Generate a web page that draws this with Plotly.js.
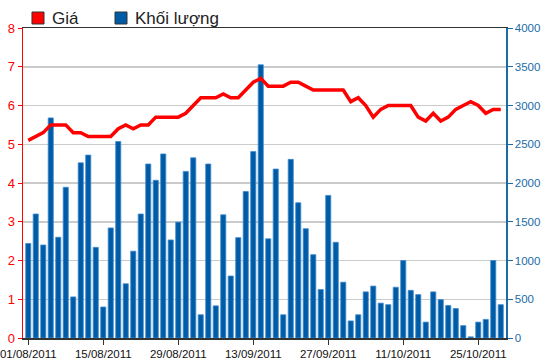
<!DOCTYPE html>
<html>
<head>
<meta charset="utf-8">
<script src="https://cdn.plot.ly/plotly-3.0.1.min.js"></script>
<style>html,body{margin:0;padding:0;background:#fff;}#chart{width:550px;height:364px;}</style>
</head>
<body>
<div id="chart"></div>
<script>
const dates = [
 "01/08/2011","02/08/2011","03/08/2011","04/08/2011","05/08/2011","08/08/2011","09/08/2011","10/08/2011","11/08/2011","12/08/2011",
 "15/08/2011","16/08/2011","17/08/2011","18/08/2011","19/08/2011","22/08/2011","23/08/2011","24/08/2011","25/08/2011","26/08/2011",
 "29/08/2011","30/08/2011","31/08/2011","01/09/2011","05/09/2011","06/09/2011","07/09/2011","08/09/2011","09/09/2011","12/09/2011",
 "13/09/2011","14/09/2011","15/09/2011","16/09/2011","19/09/2011","20/09/2011","21/09/2011","22/09/2011","23/09/2011","26/09/2011",
 "27/09/2011","28/09/2011","29/09/2011","30/09/2011","03/10/2011","04/10/2011","05/10/2011","06/10/2011","07/10/2011","10/10/2011",
 "11/10/2011","12/10/2011","13/10/2011","14/10/2011","17/10/2011","18/10/2011","19/10/2011","20/10/2011","21/10/2011","24/10/2011",
 "25/10/2011","26/10/2011","27/10/2011","28/10/2011"
];
const volume = [
 1220,1600,1200,2840,1300,1945,530,2260,2360,1170,
 400,1420,2535,700,1120,1600,2245,2035,2375,1265,
 1495,2150,2325,300,2245,415,1590,800,1295,1890,
 2405,3525,1280,2180,300,2305,1745,1410,1075,625,
 1840,1235,720,220,300,595,670,450,430,655,
 1000,615,560,205,595,495,420,380,160,15,
 205,240,1000,430
];
const price = [
 5.1,5.2,5.3,5.5,5.5,5.5,5.3,5.3,5.2,5.2,
 5.2,5.2,5.4,5.5,5.4,5.5,5.5,5.7,5.7,5.7,
 5.7,5.8,6.0,6.2,6.2,6.2,6.3,6.2,6.2,6.4,
 6.6,6.7,6.5,6.5,6.5,6.6,6.6,6.5,6.4,6.4,
 6.4,6.4,6.4,6.1,6.2,6.0,5.7,5.9,6.0,6.0,
 6.0,6.0,5.7,5.6,5.8,5.6,5.7,5.9,6.0,6.1,
 6.0,5.8,5.9,5.9
];
const tickDates = ["01/08/2011","15/08/2011","29/08/2011","13/09/2011","27/09/2011","11/10/2011","25/10/2011"];
const priceTicks = [0,1,2,3,4,5,6,7,8];
const volumeTicks = [0,500,1000,1500,2000,2500,3000,3500,4000];
const legendNames = ["Giá","Khối lượng"];

const RED = "#ff0000", BLUE = "#005ba6", AXBLUE = "#1a6ca8";
const tickFont = {family:"Liberation Sans, Arial, sans-serif", size:11.5};

const traces = [
 {type:"bar", x:dates, y:volume, yaxis:"y", name:legendNames[1],
  marker:{color:BLUE, line:{color:"#3d8ad0", width:0.8}}, showlegend:false, hoverinfo:"x+y"},
 {type:"scatter", mode:"lines", x:dates, y:price, yaxis:"y2", name:legendNames[0],
  line:{color:RED, width:3.5}, showlegend:false}
];

const layout = {
 width:550, height:364,
 margin:{l:23, r:44, t:28, b:26, pad:0},
 paper_bgcolor:"#ffffff", plot_bgcolor:"#ffffff",
 bargap:0.32,
 showlegend:false,
 xaxis:{type:"category", range:[-0.7,63.7], tickmode:"array", tickvals:tickDates, ticktext:tickDates,
  showgrid:false, showline:true, linecolor:"#333333", linewidth:1.5, mirror:true,
  ticks:"outside", ticklen:5, tickcolor:"#333333", tickwidth:1,
  tickfont:Object.assign({color:"#111111"}, tickFont), tickangle:0, automargin:false},
 yaxis:{side:"right", range:[0,4000], tickmode:"array", tickvals:volumeTicks,
  showgrid:true, gridcolor:"#cbcbcb", gridwidth:1.5, zeroline:false,
  showline:true, linecolor:AXBLUE, linewidth:1.5,
  ticks:"outside", ticklen:5, tickcolor:AXBLUE, tickfont:Object.assign({color:AXBLUE}, tickFont), automargin:false},
 yaxis2:{overlaying:"y", side:"left", range:[0,8], tickmode:"array", tickvals:priceTicks,
  showgrid:false, zeroline:false, showline:true, linecolor:RED, linewidth:1.5,
  ticks:"outside", ticklen:4, tickcolor:RED, tickfont:{family:"Liberation Sans, Arial, sans-serif", size:13, color:RED}, automargin:false},
 shapes:[
  {type:"rect", xref:"paper", yref:"paper", x0:0.0186, x1:0.0435, y0:1.0129, y1:1.0516, fillcolor:RED, line:{color:"#333333", width:1}},
  {type:"rect", xref:"paper", yref:"paper", x0:0.1905, x1:0.2153, y0:1.0129, y1:1.0516, fillcolor:BLUE, line:{color:"#333333", width:1}}
 ],
 annotations:[
  {text:legendNames[0], xref:"paper", yref:"paper", x:0.0559, y:1.032, xanchor:"left", yanchor:"middle", showarrow:false,
   font:{family:"Liberation Sans, Arial, sans-serif", size:17, color:"#222222"}},
  {text:legendNames[1], xref:"paper", yref:"paper", x:0.2277, y:1.032, xanchor:"left", yanchor:"middle", showarrow:false,
   font:{family:"Liberation Sans, Arial, sans-serif", size:17, color:"#222222"}}
 ]
};

Plotly.newPlot("chart", traces, layout, {displayModeBar:false, staticPlot:true});
</script>
</body>
</html>
